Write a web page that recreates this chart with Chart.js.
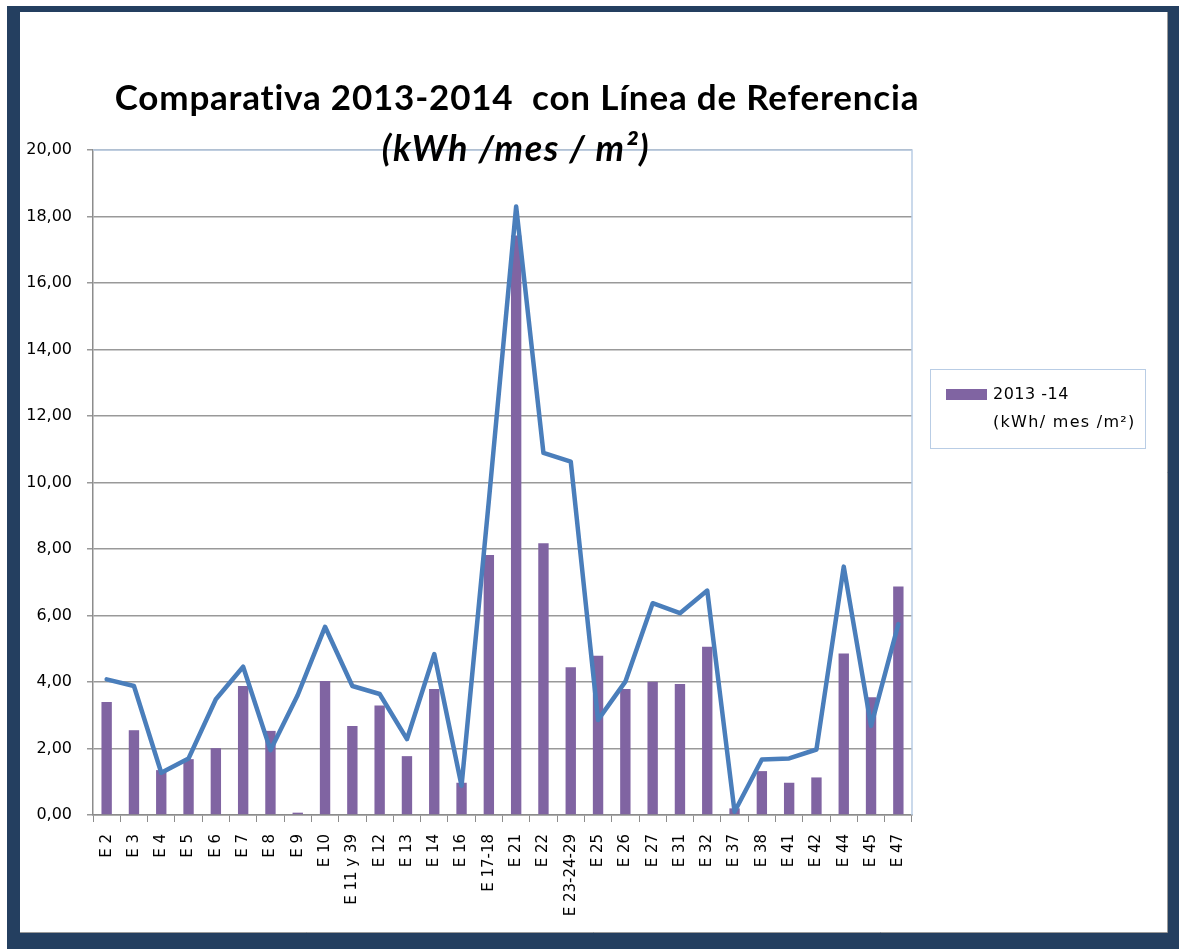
<!DOCTYPE html>
<html>
<head>
<meta charset="utf-8">
<title>Comparativa 2013-2014</title>
<script src="https://cdn.jsdelivr.net/npm/chart.js@4.4.1/dist/chart.umd.min.js"></script>
<style>
    body { margin: 0; background: #fff; }
    #wrap { position: relative; width: 1179px; height: 949px; }
</style>
</head>
<body>
<div id="wrap"><canvas id="chart" width="1179" height="949"></canvas></div>
<script>
// Categories (buildings)
const categories = ['E 2', 'E 3', 'E 4', 'E 5', 'E 6', 'E 7', 'E 8', 'E 9', 'E 10', 'E 11 y 39',
    'E 12', 'E 13', 'E 14', 'E 16', 'E 17-18', 'E 21', 'E 22', 'E 23-24-29', 'E 25', 'E 26',
    'E 27', 'E 31', 'E 32', 'E 37', 'E 38', 'E 41', 'E 42', 'E 44', 'E 45', 'E 47'];

// 2013-14 consumption (bars)
const values2013 = [3.40, 2.55, 1.35, 1.68, 2.01, 3.88, 2.53, 0.07, 4.03, 2.68,
    3.29, 1.77, 3.79, 0.97, 7.82, 17.43, 8.17, 4.44, 4.79, 3.79,
    4.01, 3.94, 5.06, 0.20, 1.32, 0.97, 1.13, 4.86, 3.54, 6.87];

// reference line
const referenceLine = [4.08, 3.88, 1.27, 1.70, 3.48, 4.46, 1.95, 3.61, 5.66, 3.88,
    3.64, 2.28, 4.84, 0.88, 9.45, 18.30, 10.89, 10.63, 2.86, 4.01,
    6.37, 6.07, 6.75, 0.10, 1.67, 1.70, 1.97, 7.47, 2.68, 5.74];

const yTicks = [0, 2, 4, 6, 8, 10, 12, 14, 16, 18, 20];

const titleLine1 = 'Comparativa 2013-2014  con Línea de Referencia';
const titleLine2 = '(kWh /mes / m²)';
const legendLines = ['2013 -14', '(kWh/ mes /m²)'];

const purple = '#8064A2';
const blue = '#4A7EBB';

// frame, title, plot border and legend drawn by hand
const decorations = {
    id: 'decorations',
    beforeDraw(chart) {
        const c = chart.ctx;
        c.save();
        c.fillStyle = '#243F60';
        c.fillRect(7, 6, 1172, 943);
        c.fillStyle = '#ffffff';
        c.fillRect(20, 12, 1147, 920);
        c.strokeStyle = '#9a9a9a';
        c.lineWidth = 1;
        c.beginPath();
        c.moveTo(1167.5, 12);
        c.lineTo(1167.5, 932.5);
        c.lineTo(20, 932.5);
        c.stroke();
        c.restore();
    },
    afterDraw(chart) {
        const c = chart.ctx;
        const a = chart.chartArea;
        c.save();
        // top/right border of plot area
        c.strokeStyle = '#B9CDE5';
        c.lineWidth = 1.5;
        c.beginPath();
        c.moveTo(a.left, a.top);
        c.lineTo(a.right, a.top);
        c.lineTo(a.right, a.bottom);
        c.stroke();

        // title
        c.fillStyle = '#000';
        c.textAlign = 'center';
        c.textBaseline = 'alphabetic';
        c.letterSpacing = '0.8px';
        c.font = 'bold 35px Lato';
        c.fillText(titleLine1, 517, 110);
        c.letterSpacing = '1.5px';
        c.font = 'italic bold 36px Lato';
        c.fillText(titleLine2, 516, 161);

        // legend
        c.letterSpacing = '0px';
        c.fillStyle = '#fff';
        c.fillRect(930, 369, 215, 79);
        c.strokeStyle = '#B9CDE5';
        c.lineWidth = 1;
        c.strokeRect(930.5, 369.5, 215, 79);
        c.fillStyle = purple;
        c.fillRect(946, 389, 41, 11);
        c.fillStyle = '#000';
        c.textAlign = 'left';
        c.textBaseline = 'middle';
        c.font = '16px "DejaVu Sans"';
        c.letterSpacing = '0.5px';
        c.fillText(legendLines[0], 993, 395);
        c.letterSpacing = '1.3px';
        c.fillText(legendLines[1], 993, 423);
        c.restore();
    }
};

const ctx = document.getElementById('chart').getContext('2d');
new Chart(ctx, {
    type: 'bar',
    data: {
        labels: categories,
        datasets: [
            {
                type: 'line',
                label: 'Referencia',
                data: referenceLine,
                borderColor: blue,
                borderWidth: 4.5,
                borderJoinStyle: 'round',
                borderCapStyle: 'round',
                pointRadius: 0,
                tension: 0,
                fill: false,
                order: 0
            },
            {
                type: 'bar',
                label: legendLines.join(' '),
                data: values2013,
                backgroundColor: purple,
                barPercentage: 0.38,
                categoryPercentage: 1,
                order: 1
            }
        ]
    },
    options: {
        responsive: false,
        animation: false,
        layout: { padding: { top: 150, right: 267, left: 0, bottom: 0 } },
        plugins: {
            legend: { display: false },
            title: { display: false },
            tooltip: { enabled: false }
        },
        scales: {
            x: {
                offset: true,
                grid: {
                    offset: true,
                    drawOnChartArea: false,
                    color: '#8c8c8c',
                    tickLength: 7
                },
                border: { color: '#8c8c8c', width: 1.5 },
                ticks: {
                    autoSkip: false,
                    minRotation: 90,
                    maxRotation: 90,
                    padding: 12,
                    color: '#000',
                    font: { family: 'DejaVu Sans', size: 15 }
                },
                afterFit(scale) { scale.height = 134; }
            },
            y: {
                min: 0,
                max: 20,
                afterBuildTicks(scale) {
                    scale.ticks = yTicks.map(v => ({ value: v }));
                },
                grid: {
                    color: '#999999',
                    lineWidth: 1.5,
                    tickLength: 6
                },
                border: { color: '#8c8c8c', width: 1.5 },
                ticks: {
                    padding: 15,
                    color: '#000',
                    font: { family: 'DejaVu Sans', size: 16 },
                    callback: v => v.toFixed(2).replace('.', ',')
                },
                afterFit(scale) { scale.width = 93; }
            }
        }
    },
    plugins: [decorations]
});
</script>
</body>
</html>
